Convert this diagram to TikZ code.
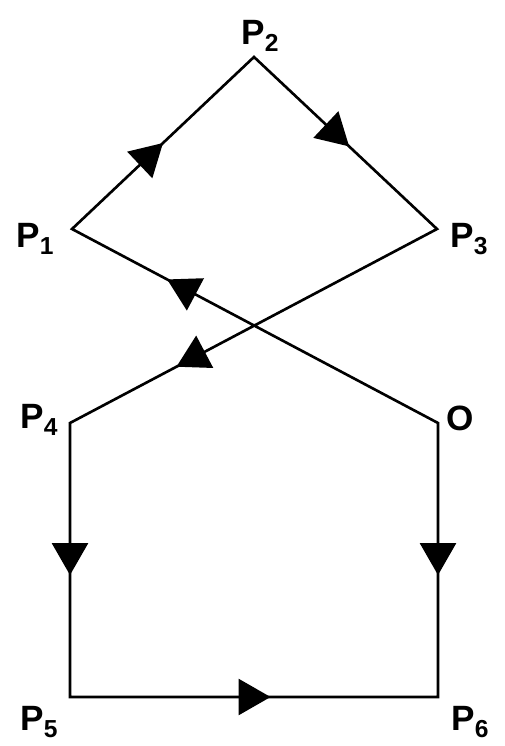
\documentclass[tikz,border=0pt]{standalone}
\usepackage{fontspec}
\setmainfont{Liberation Sans}
\usepackage{tikz}
\usetikzlibrary{arrows.meta,decorations.markings}
\newcommand{\ind}[1]{\raisebox{-0.14cm}{\fontsize{14}{14}\selectfont #1}}
\tikzset{
  lbl/.style={anchor=base west, inner sep=0pt, font=\fontsize{20}{20}\selectfont\bfseries},
  fleche/.style={decoration={markings, mark=at position #1 with {\arrow{Triangle[length=0.64cm,width=0.72cm]}}}, postaction={decorate}}
}
\begin{document}
\begin{tikzpicture}[x=0.02cm, y=-0.02cm, line width=1.5pt, line join=miter]
\useasboundingbox (0,0) rectangle (504,746);
% sommets
\coordinate (P1) at (72,229);
\coordinate (P2) at (254,57);
\coordinate (P3) at (437,229);
\coordinate (P4) at (70,423);
\coordinate (O) at (438,423);
\coordinate (P5) at (70,697);
\coordinate (P6) at (438,697);
% contour
\draw (O) -- (P1) -- (P2) -- (P3) -- (P4) -- (P5) -- (P6) -- cycle;
% fleches
\path[fleche=0.74] (O) -- (P1);
\path[fleche=0.5] (P1) -- (P2);
\path[fleche=0.52] (P2) -- (P3);
\path[fleche=0.71] (P3) -- (P4);
\path[fleche=0.555] (P4) -- (P5);
\path[fleche=0.545] (P5) -- (P6);
\path[fleche=0.555] (O) -- (P6);
% etiquettes
\node[lbl] (l1) at (15,248) {P\ind{1}};
\node[lbl] (l2) at (240,45) {P\ind{2}};
\node[lbl] (l3) at (449,248) {P\ind{3}};
\node[lbl] (l4) at (19,428) {P\ind{4}};
\node[lbl] (lO) at (445,430) {O};
\node[lbl] (l5) at (19,730) {P\ind{5}};
\node[lbl] (l6) at (450,730) {P\ind{6}};
\end{tikzpicture}
\end{document}
